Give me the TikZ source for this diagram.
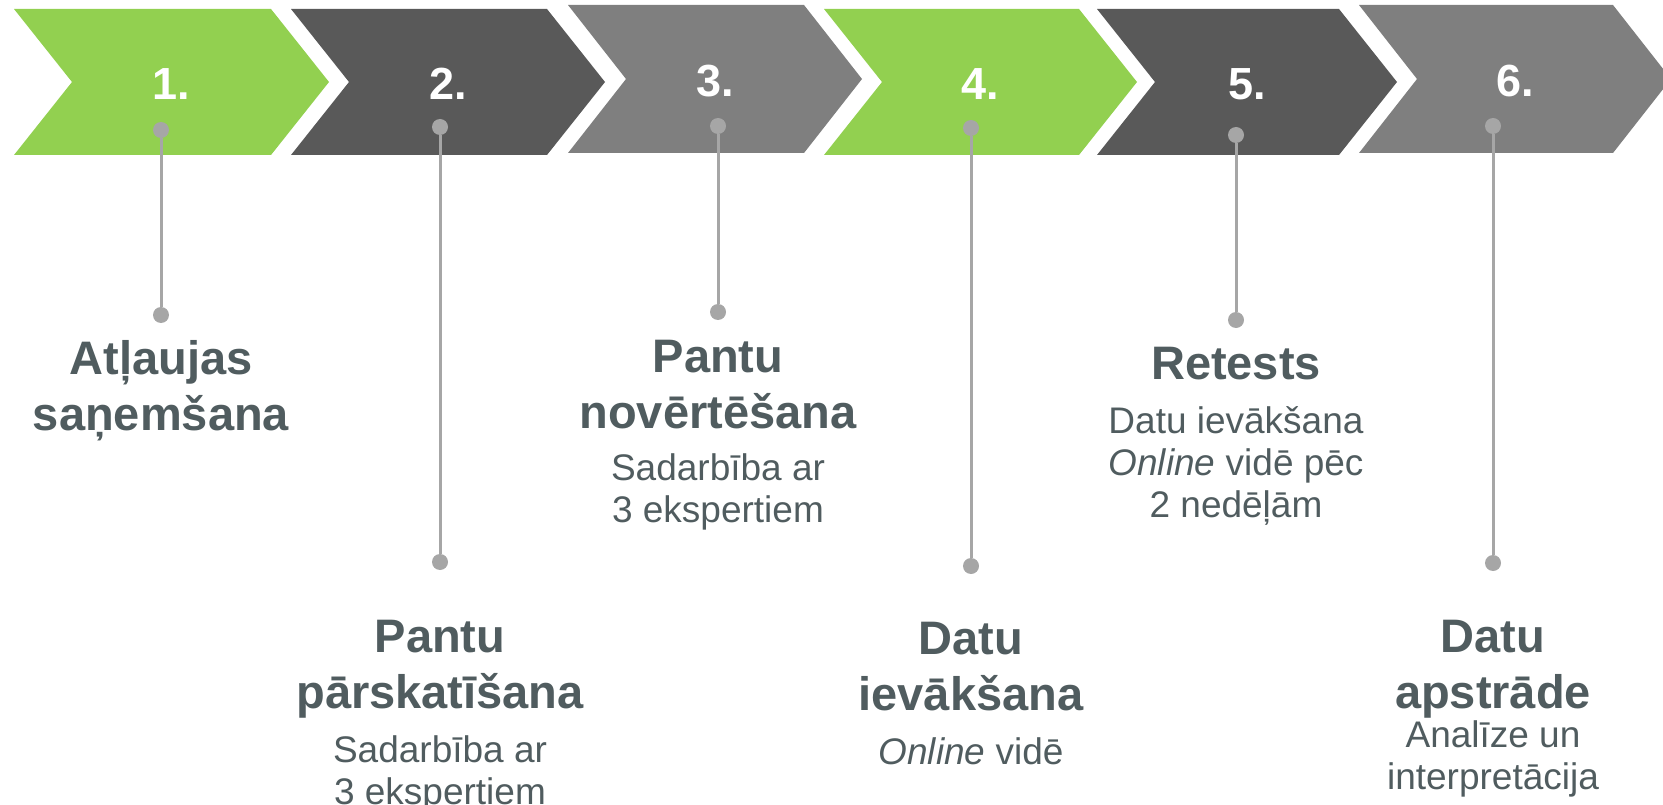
\documentclass[tikz,border=0pt]{standalone}
\usepackage{fontspec}
\setmainfont{Liberation Sans}
\usetikzlibrary{positioning}
\definecolor{stepgreen}{HTML}{92D050}
\definecolor{stepdark}{HTML}{595959}
\definecolor{stepgrey}{HTML}{7F7F7F}
\definecolor{pingrey}{HTML}{A6A6A6}
\definecolor{txt}{HTML}{505C5F}

\begin{document}
\begin{tikzpicture}[x=1pt,y=-1pt,
    num/.style={text=white,font=\bfseries\fontsize{45}{54}\selectfont,inner sep=0},
    dot/.style={circle,fill=pingrey,minimum size=16pt,inner sep=0},
    stem/.style={draw=pingrey,line width=3pt},
    title/.style={text=txt,font=\bfseries\fontsize{47}{56}\selectfont,align=center,inner sep=0,anchor=north},
    note/.style={text=txt,font=\fontsize{37}{42}\selectfont,align=center,inner sep=0,anchor=north}]
        \useasboundingbox (0,0) rectangle (1663,805);
        % The chevrons
        \fill[stepgreen] (14,9) -- (271,9) -- (329,82) -- (271,155) -- (14,155) -- (72,82) -- cycle;
        \fill[stepdark]  (291,9) -- (547,9) -- (605,82) -- (547,155) -- (291,155) -- (349,82) -- cycle;
        \fill[stepgrey]  (568,5) -- (804,5) -- (862,79) -- (804,153) -- (568,153) -- (626,79) -- cycle;
        \fill[stepgreen] (824,9) -- (1079,9) -- (1137,82) -- (1079,155) -- (824,155) -- (882,82) -- cycle;
        \fill[stepdark]  (1097,9) -- (1339,9) -- (1397,82) -- (1339,155) -- (1097,155) -- (1155,82) -- cycle;
        \fill[stepgrey]  (1359,5) -- (1613,5) -- (1671,79) -- (1613,153) -- (1359,153) -- (1417,79) -- cycle;
        % Define the nodes
        \node[num] (n1) at (171,84) {1.};
        \node[num] (n2) at (448,84) {2.};
        \node[num] (n3) at (715,81) {3.};
        \node[num] (n4) at (980,84) {4.};
        \node[num] (n5) at (1247,84) {5.};
        \node[num] (n6) at (1515,81) {6.};
        \node[dot] (d1a) at (161,130) {};
        \node[dot] (d1b) at (161,315) {};
        \node[dot] (d2a) at (440,127) {};
        \node[dot] (d2b) at (440,562) {};
        \node[dot] (d3a) at (718,126) {};
        \node[dot] (d3b) at (718,312) {};
        \node[dot] (d4a) at (971,128) {};
        \node[dot] (d4b) at (971,566) {};
        \node[dot] (d5a) at (1236,135) {};
        \node[dot] (d5b) at (1236,320) {};
        \node[dot] (d6a) at (1493,126) {};
        \node[dot] (d6b) at (1493,563) {};
        \node[title] (t1) at (161,340) {Atļaujas\\saņemšana};
        \node[title] (t2) at (440,620) {Pantu\\pārskatīšana};
        \node[note]  (s2) at (440,735) {Sadarbība ar\\3 ekspertiem};
        \node[title] (t3) at (718,340) {Pantu\\novērtēšana};
        \node[note]  (s3) at (718,453) {Sadarbība ar\\3 ekspertiem};
        \node[title] (t4) at (971,622) {Datu\\ievākšana};
        \node[note]  (s4) at (971,737) {\textit{Online} vidē};
        \node[title] (t5) at (1236,347) {Retests};
        \node[note]  (s5) at (1236,406) {Datu ievākšana\\\textit{Online} vidē pēc\\2 nedēļām};
        \node[title] (t6) at (1493,620) {Datu\\apstrāde};
        \node[note]  (s6) at (1493,720) {Analīze un\\interpretācija};
        % Connect the nodes
        \draw[stem] (d1a) -- (d1b);
        \draw[stem] (d2a) -- (d2b);
        \draw[stem] (d3a) -- (d3b);
        \draw[stem] (d4a) -- (d4b);
        \draw[stem] (d5a) -- (d5b);
        \draw[stem] (d6a) -- (d6b);
\end{tikzpicture}
\end{document}
